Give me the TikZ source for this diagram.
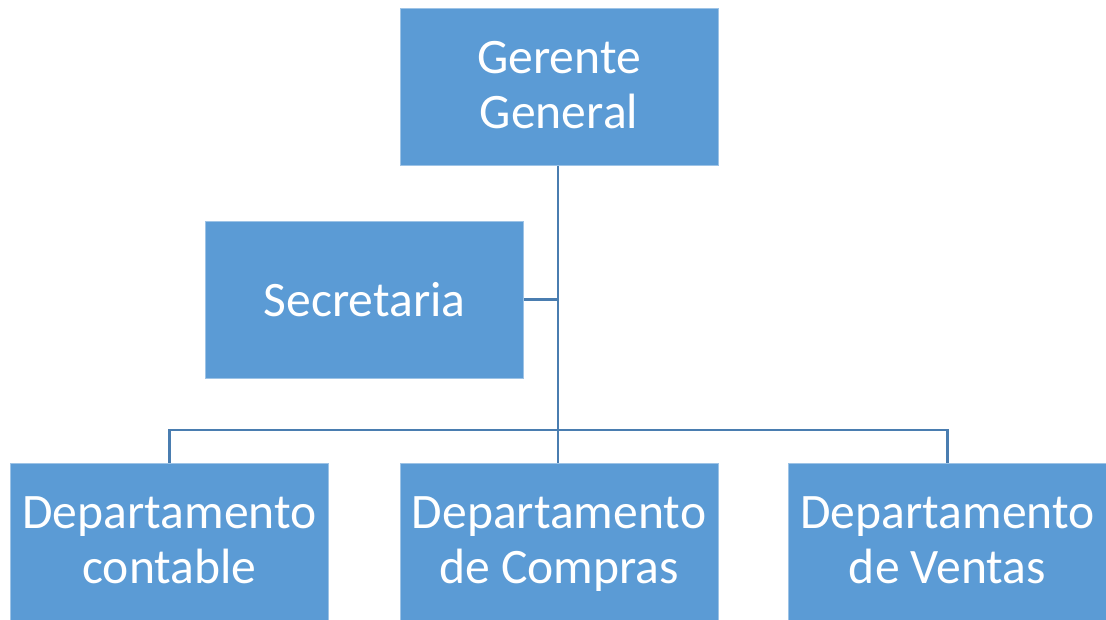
\documentclass[tikz,border=0pt]{standalone}
\usepackage{fontspec}
\setmainfont{Carlito}
\definecolor{boxblue}{HTML}{5B9BD5}
\definecolor{edgeblue}{HTML}{4A7DB0}
\definecolor{rimblue}{HTML}{9DC3E6}
\newcommand\tallstrut{\rule{0pt}{44.5pt}}
\begin{document}
\begin{tikzpicture}[x=1pt,y=-1pt,
  orgbox/.style={fill=boxblue,draw=rimblue,line width=0.8pt,minimum width=318pt,minimum height=157pt,
    inner sep=0pt,align=center,text=white,font=\fontsize{49.6}{55}\selectfont},
  link/.style={draw=edgeblue,line width=2.8pt}]
\useasboundingbox (0,0) rectangle (1106,619);
\node[orgbox] (gg) at (559,87) {\tallstrut Gerente\\\strut General};
\node[orgbox] (sec) at (364.5,299.5) {Secretaria};
\node[orgbox] (dc) at (169.5,541.5) {\tallstrut Departamento\\\strut contable};
\node[orgbox] (dcomp) at (559,541.5) {\tallstrut Departamento\\\strut de Compras};
\node[orgbox] (dv) at (947.5,541.5) {\tallstrut Departamento\\\strut de Ventas};
\coordinate (bus) at (558,430);
\path[link] (gg.south -| bus) -- (dcomp.north -| bus);
\path[link] (sec.east) -- (sec.east -| bus);
\path[link] (dc.north) -- (dc.north |- bus) -- (dv.north |- bus) -- (dv.north);
\end{tikzpicture}
\end{document}
